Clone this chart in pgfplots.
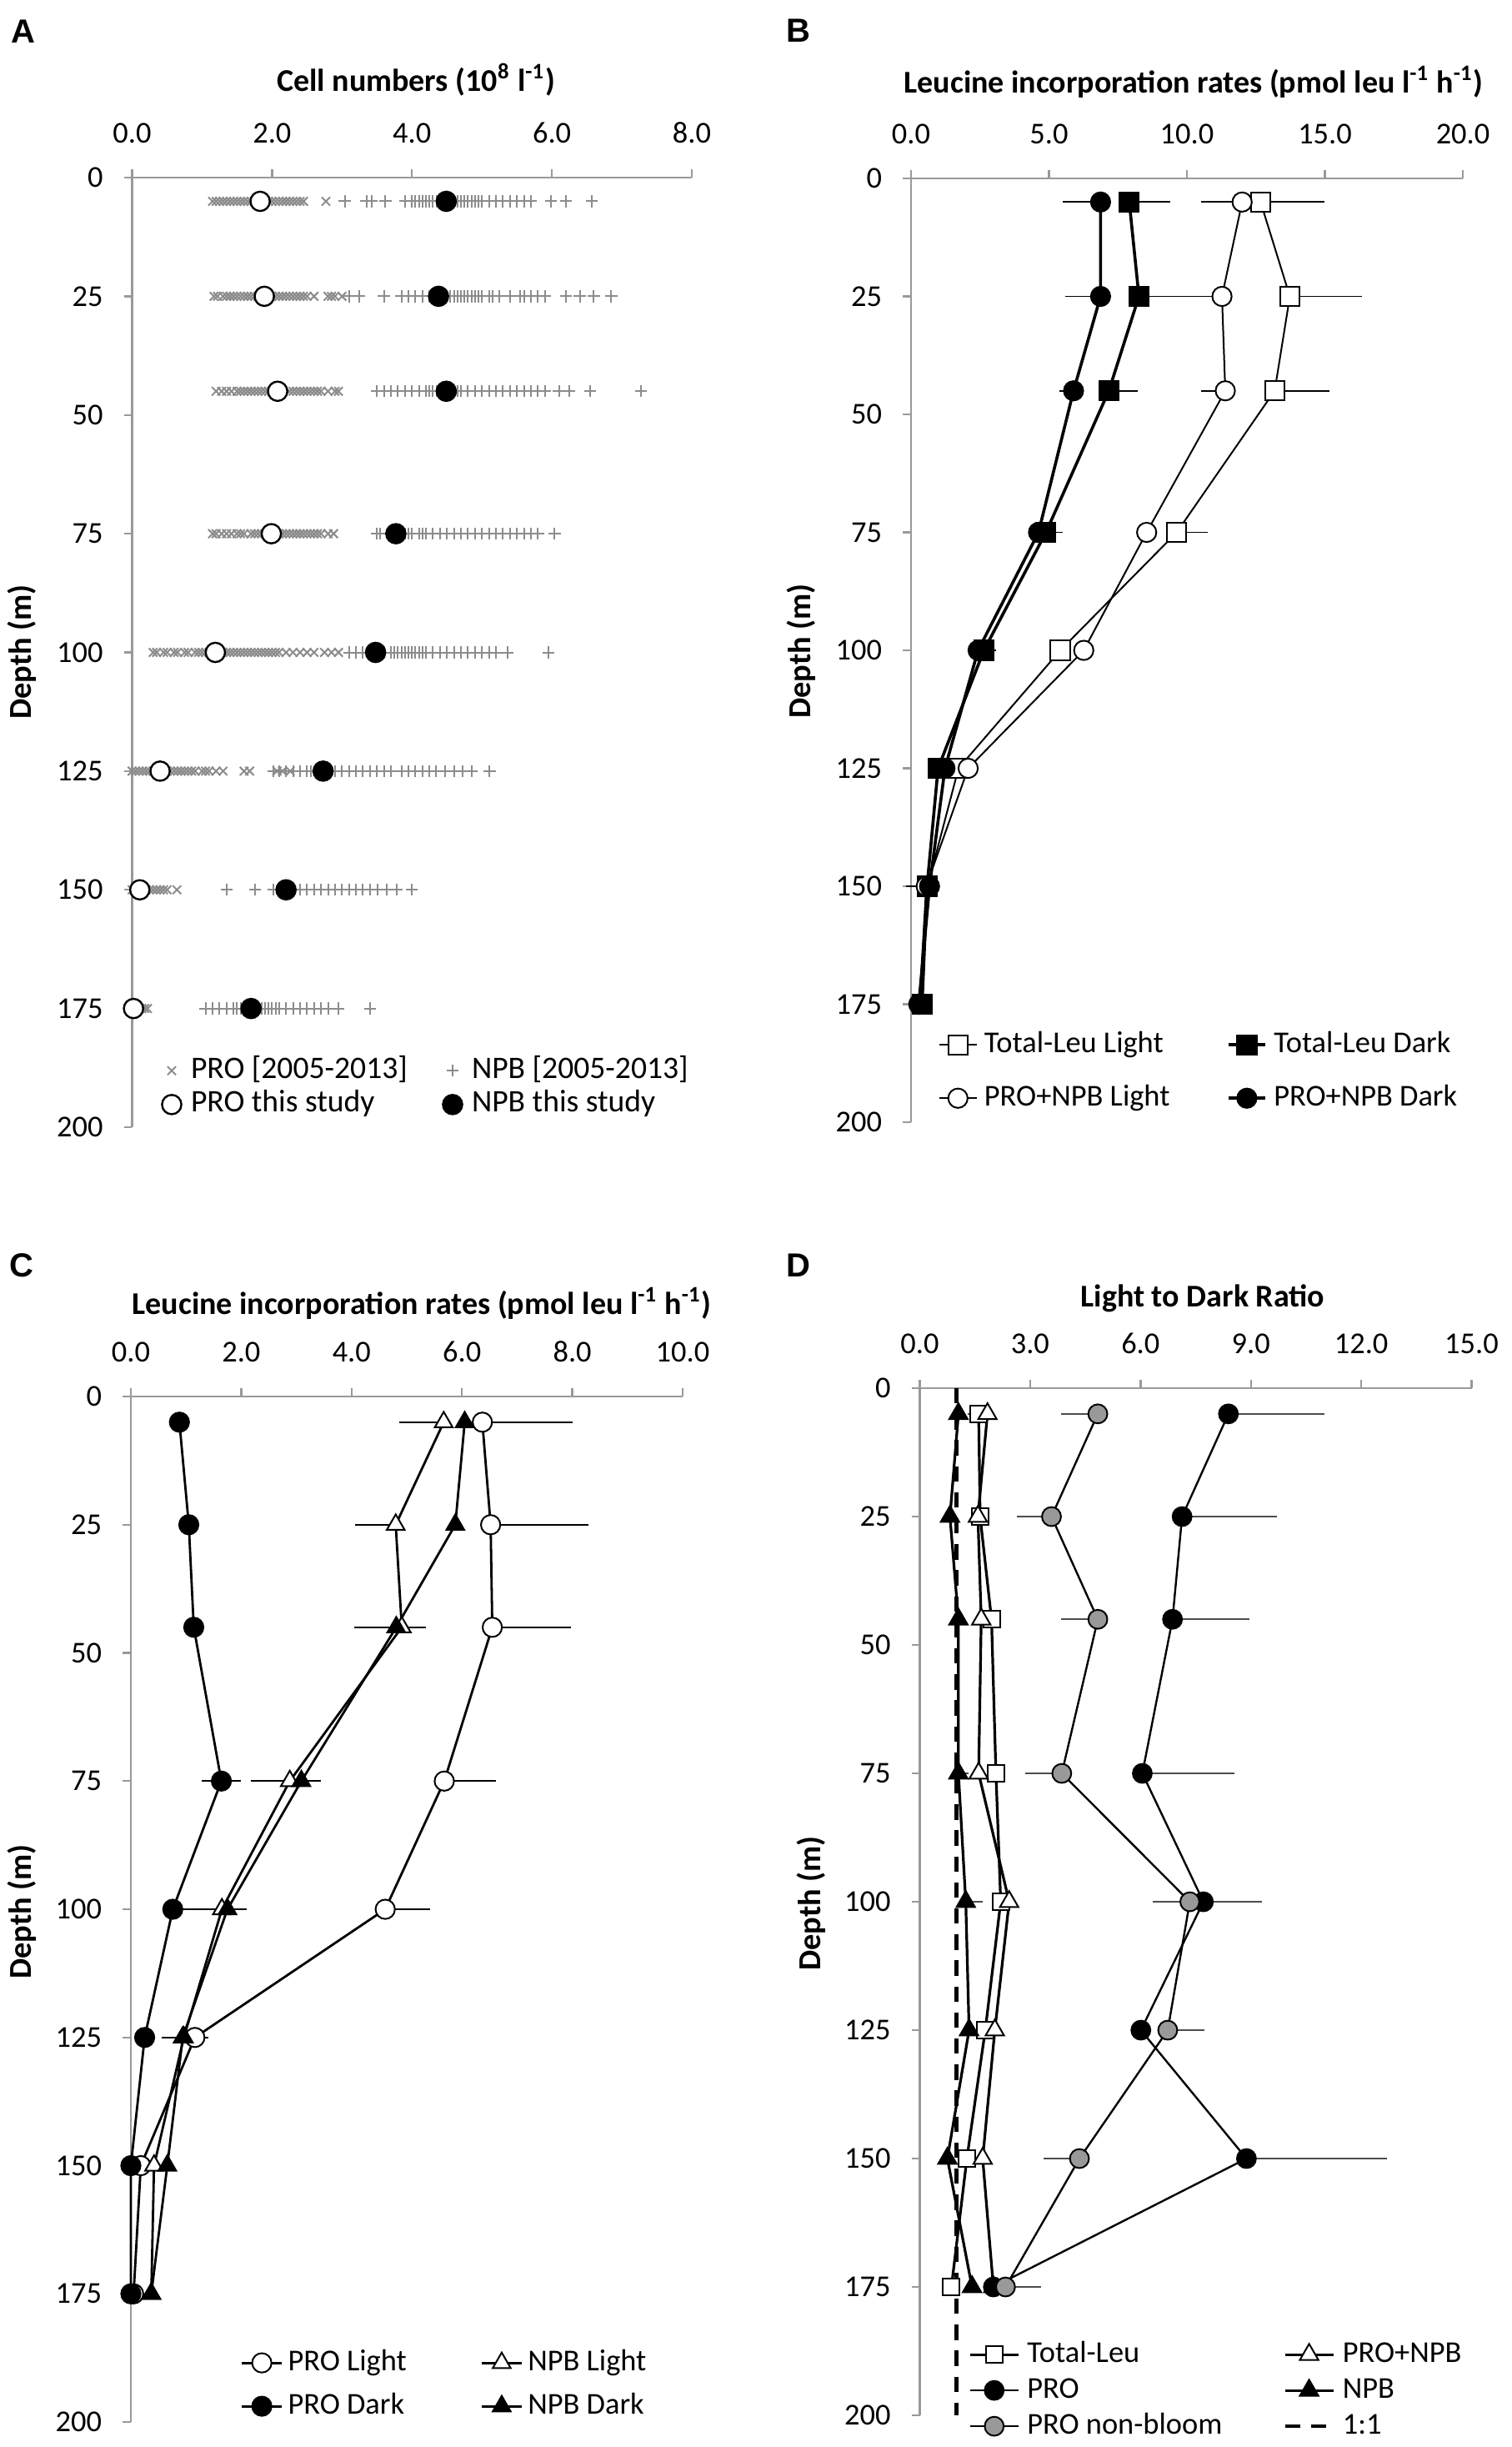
\documentclass[border=0pt]{standalone}
\usepackage{fontspec}
\setmainfont{Carlito}
\newfontfamily\arialfont{Liberation Sans}
\usepackage{pgfplots}
\pgfplotsset{compat=1.18}

\newcommand\fs{\fontsize{9.1pt}{10.8pt}\selectfont}
\newcommand\tfs{\fontsize{9.5pt}{11.4pt}\selectfont}
\newcommand\lfs{\fontsize{9.1pt}{11pt}\selectfont}
\newcommand\lent[2]{\makebox[#1][l]{\rule[-2pt]{0pt}{8.5pt}#2}}

\pgfplotsset{
  panel/.style={
    scale only axis, y dir=reverse, ymin=0, ymax=200, ytick={0,25,...,200},
    axis x line*=top, axis y line*=left,
    axis line style={draw=black!40, line width=0.6pt},
    tick style={draw=black!40, line width=0.6pt},
    tick align=outside, major tick length=2.4pt,
    clip=false, font=\fs,
    /pgf/number format/assume math mode=true,
    xticklabel style={/pgf/number format/.cd, fixed, fixed zerofill, precision=1},
    xticklabel shift=4.4pt, yticklabel shift=2.8pt,
    legend columns=2, legend cell align=left,
    legend style={draw=none, fill=none, inner sep=0pt, outer sep=0pt, font=\lfs, anchor=north west,
      nodes={inner sep=0pt, text depth=2pt}},
  },
  eb/.style={error bars/.cd, x dir=both, x explicit, error mark=none,
     error bar style={line width=0.45pt, black}},
  amark/.style={only marks, legend image code/.code={\path[draw=none,fill=none] (-3pt,-3pt) rectangle (3pt,3pt); \draw[##1] plot coordinates {(0pt,0pt)};}},
}

\begin{document}
\begin{tikzpicture}
\path[use as bounding box] (0,0) rectangle (453.25pt,-733.75pt);

% ---------------- Panel A ----------------
\begin{axis}[panel, at={(123.56pt,-195.625pt)}, anchor=center,
  width=167.875pt, height=284.75pt, xmin=0, xmax=8, xtick={0,2,4,6,8},
  legend style={at={(axis cs:0.423,185.0)}, row sep=1.5pt, column sep=2.75pt, font=\fontsize{9.4pt}{11pt}\selectfont}]
\addplot[amark, mark=x, mark size=1.8pt, mark options={draw=black!45, line width=0.5pt}] coordinates {
(1.15,5)(1.2,5)(1.25,5)(1.3,5)(1.35,5)(1.4,5)(1.45,5)(1.5,5)(1.55,5)(1.6,5)(1.65,5)(1.7,5)(1.75,5)(1.8,5)(1.9,5)(1.95,5)(2.0,5)(2.05,5)(2.1,5)(2.15,5)(2.2,5)(2.25,5)(2.3,5)(2.35,5)(2.4,5)(2.45,5)(2.77,5)
(1.17,25)(1.22,25)(1.3,25)(1.35,25)(1.4,25)(1.45,25)(1.5,25)(1.55,25)(1.6,25)(1.65,25)(1.7,25)(1.75,25)(1.8,25)(1.85,25)(1.95,25)(2.0,25)(2.05,25)(2.1,25)(2.15,25)(2.2,25)(2.25,25)(2.3,25)(2.35,25)(2.4,25)(2.45,25)(2.5,25)(2.6,25)(2.8,25)(2.85,25)(2.9,25)(3.0,25)
(1.2,45)(1.28,45)(1.35,45)(1.42,45)(1.5,45)(1.55,45)(1.6,45)(1.65,45)(1.7,45)(1.75,45)(1.8,45)(1.85,45)(1.9,45)(1.95,45)(2.0,45)(2.25,45)(2.3,45)(2.35,45)(2.4,45)(2.45,45)(2.5,45)(2.55,45)(2.6,45)(2.65,45)(2.7,45)(2.8,45)(2.9,45)(2.95,45)
(1.15,75)(1.2,75)(1.28,75)(1.35,75)(1.42,75)(1.5,75)(1.55,75)(1.6,75)(1.7,75)(1.75,75)(1.8,75)(1.85,75)(1.9,75)(1.95,75)(2.1,75)(2.15,75)(2.2,75)(2.25,75)(2.3,75)(2.35,75)(2.4,75)(2.45,75)(2.5,75)(2.55,75)(2.6,75)(2.65,75)(2.7,75)(2.8,75)(2.88,75)
(0.3,100)(0.35,100)(0.45,100)(0.5,100)(0.6,100)(0.65,100)(0.75,100)(0.8,100)(0.9,100)(0.95,100)(1.0,100)(1.05,100)(1.1,100)(1.3,100)(1.35,100)(1.4,100)(1.45,100)(1.5,100)(1.55,100)(1.6,100)(1.65,100)(1.7,100)(1.75,100)(1.8,100)(1.85,100)(1.9,100)(1.95,100)(2.0,100)(2.05,100)(2.1,100)(2.2,100)(2.3,100)(2.4,100)(2.5,100)(2.6,100)(2.75,100)(2.85,100)(2.95,100)
(0.0,125)(0.05,125)(0.1,125)(0.15,125)(0.2,125)(0.25,125)(0.3,125)(0.5,125)(0.55,125)(0.6,125)(0.65,125)(0.7,125)(0.75,125)(0.8,125)(0.85,125)(0.9,125)(1.0,125)(1.05,125)(1.1,125)(1.2,125)(1.3,125)(1.6,125)(1.68,125)(2.07,125)(2.15,125)(2.26,125)
(0.0,150)(0.05,150)(0.1,150)(0.15,150)(0.2,150)(0.25,150)(0.3,150)(0.35,150)(0.4,150)(0.45,150)(0.5,150)(0.64,150)
(0.0,175)(0.03,175)(0.06,175)(0.1,175)(0.14,175)(0.18,175)(0.22,175)
};
\addlegendentry{\lent{72.75pt}{PRO [2005-2013]}}
\addplot[amark, mark=+, mark size=1.8pt, mark options={draw=black!45, line width=0.5pt}] coordinates {
(3.04,5)(3.35,5)(3.42,5)(3.62,5)(3.9,5)(4.0,5)(4.05,5)(4.1,5)(4.15,5)(4.2,5)(4.25,5)(4.3,5)(4.35,5)(4.4,5)(4.6,5)(4.65,5)(4.7,5)(4.75,5)(4.8,5)(4.85,5)(4.9,5)(4.95,5)(5.0,5)(5.1,5)(5.2,5)(5.3,5)(5.4,5)(5.5,5)(5.6,5)(5.7,5)(5.99,5)(6.2,5)(6.57,5)
(3.1,25)(3.25,25)(3.6,25)(3.85,25)(3.95,25)(4.05,25)(4.15,25)(4.25,25)(4.3,25)(4.5,25)(4.55,25)(4.6,25)(4.65,25)(4.7,25)(4.75,25)(4.8,25)(4.85,25)(4.9,25)(4.95,25)(5.0,25)(5.1,25)(5.15,25)(5.25,25)(5.4,25)(5.55,25)(5.6,25)(5.7,25)(5.8,25)(5.9,25)(6.2,25)(6.4,25)(6.6,25)(6.85,25)
(3.5,45)(3.6,45)(3.7,45)(3.8,45)(3.9,45)(4.0,45)(4.1,45)(4.2,45)(4.25,45)(4.3,45)(4.35,45)(4.6,45)(4.65,45)(4.7,45)(4.8,45)(4.9,45)(5.0,45)(5.1,45)(5.2,45)(5.3,45)(5.4,45)(5.5,45)(5.6,45)(5.7,45)(5.8,45)(5.9,45)(6.1,45)(6.25,45)(6.55,45)(7.27,45)
(3.5,75)(3.55,75)(3.85,75)(3.9,75)(3.95,75)(4.0,75)(4.1,75)(4.15,75)(4.2,75)(4.3,75)(4.4,75)(4.5,75)(4.6,75)(4.7,75)(4.8,75)(4.9,75)(5.0,75)(5.1,75)(5.2,75)(5.3,75)(5.4,75)(5.5,75)(5.6,75)(5.7,75)(5.8,75)(6.04,75)
(3.1,100)(3.2,100)(3.3,100)(3.4,100)(3.6,100)(3.7,100)(3.75,100)(3.8,100)(3.85,100)(3.9,100)(3.95,100)(4.0,100)(4.05,100)(4.1,100)(4.15,100)(4.2,100)(4.3,100)(4.4,100)(4.5,100)(4.6,100)(4.7,100)(4.8,100)(4.9,100)(5.0,100)(5.1,100)(5.2,100)(5.37,100)(5.95,100)
(2.02,125)(2.1,125)(2.2,125)(2.3,125)(2.4,125)(2.5,125)(2.55,125)(2.9,125)(3.0,125)(3.1,125)(3.2,125)(3.3,125)(3.4,125)(3.5,125)(3.6,125)(3.7,125)(3.85,125)(3.95,125)(4.05,125)(4.15,125)(4.25,125)(4.34,125)(4.47,125)(4.6,125)(4.72,125)(4.85,125)(5.11,125)
(1.35,150)(1.76,150)(2.02,150)(2.1,150)(2.3,150)(2.4,150)(2.5,150)(2.6,150)(2.7,150)(2.8,150)(2.9,150)(3.0,150)(3.1,150)(3.2,150)(3.3,150)(3.4,150)(3.51,150)(3.64,150)(3.78,150)(4.0,150)
(1.05,175)(1.15,175)(1.25,175)(1.35,175)(1.45,175)(1.5,175)(1.55,175)(1.6,175)(1.65,175)(1.8,175)(1.85,175)(1.9,175)(1.95,175)(2.0,175)(2.05,175)(2.1,175)(2.2,175)(2.3,175)(2.4,175)(2.5,175)(2.6,175)(2.7,175)(2.8,175)(2.95,175)(3.4,175)
};
\addlegendentry{\lent{72.75pt}{NPB [2005-2013]}}
\addplot[amark, mark=*, mark size=2.9pt, mark options={fill=white, draw=black, line width=0.6pt}] coordinates {(1.83,5)(1.89,25)(2.08,45)(1.99,75)(1.19,100)(0.40,125)(0.11,150)(0.02,175)};
\addlegendentry{\lent{72.75pt}{PRO this study}}
\addplot[amark, mark=*, mark size=2.9pt, mark options={fill=black, draw=black, line width=0.6pt}] coordinates {(4.49,5)(4.38,25)(4.49,45)(3.77,75)(3.48,100)(2.73,125)(2.20,150)(1.70,175)};
\addlegendentry{\lent{72.75pt}{NPB this study}}
\end{axis}

% ---------------- Panel B ----------------
\begin{axis}[panel, at={(356pt,-195pt)}, anchor=center,
  width=165.5pt, height=283pt, xmin=0, xmax=20, xtick={0,5,10,15,20},
  legend image code/.code={\draw[mark repeat=2,mark phase=2,#1] plot coordinates {(0pt,0pt)(5.55pt,0pt)(11.1pt,0pt)};},
  legend style={at={(axis cs:1.0,180.6)}, row sep=7.5pt, column sep=2.1pt}]
\addplot[black, line width=0.5pt, mark=square*, mark size=2.9pt, mark options={fill=white, line width=0.5pt}, eb] coordinates {
(12.67,5) += (2.3,0) -= (0,0)
(13.73,25) += (2.61,0) -= (0,0)
(13.18,45) += (1.99,0) -= (0,0)
(9.63,75) += (1.11,0) -= (0,0)
(5.41,100) += (0,0) -= (0,0)
(1.72,125) += (0,0) -= (0,0)
(0.60,150) += (0,0) -= (0,0)
(0.40,175) += (0,0) -= (0,0)
};
\addlegendentry{\lent{70.65pt}{Total-Leu Light}}
\addplot[black, line width=0.9pt, mark=square*, mark size=2.9pt, mark options={fill=black, line width=0.5pt}, eb] coordinates {
(7.91,5) += (1.5,0) -= (0,0)
(8.26,25) += (1.46,0) -= (0,0)
(7.17,45) += (1.05,0) -= (0,0)
(4.89,75) += (0.61,0) -= (0,0)
(2.64,100) += (0.44,0) -= (0,0)
(0.98,125) += (0,0) -= (0,0)
(0.58,150) += (0.44,0) -= (0,0)
(0.40,175) += (0,0) -= (0,0)
};
\addlegendentry{\lent{70.65pt}{Total-Leu Dark}}
\addplot[black, line width=0.5pt, mark=*, mark size=2.9pt, mark options={fill=white, line width=0.5pt}, eb] coordinates {
(12.0,5) += (0,0) -= (1.5,0)
(11.27,25) += (0,0) -= (1.55,0)
(11.39,45) += (0,0) -= (0.88,0)
(8.54,75) += (0,0) -= (0,0)
(6.26,100) += (0,0) -= (0,0)
(2.07,125) += (0,0) -= (0,0)
(0.55,150) += (0,0) -= (0,0)
(0.30,175) += (0,0) -= (0,0)
};
\addlegendentry{\lent{70.65pt}{PRO+NPB Light}}
\addplot[black, line width=0.9pt, mark=*, mark size=2.9pt, mark options={fill=black, line width=0.5pt}, eb] coordinates {
(6.87,5) += (0,0) -= (1.37,0)
(6.87,25) += (0,0) -= (1.28,0)
(5.89,45) += (0,0) -= (0.51,0)
(4.62,75) += (0,0) -= (0,0)
(2.43,100) += (0,0) -= (0,0)
(1.23,125) += (0,0) -= (0,0)
(0.67,150) += (0,0) -= (0.85,0)
(0.28,175) += (0,0) -= (0,0)
};
\addlegendentry{\lent{70.65pt}{PRO+NPB Dark}}
\end{axis}

% ---------------- Panel C ----------------
\begin{axis}[panel, at={(122pt,-572.5pt)}, anchor=center,
  width=165.5pt, height=307.5pt, xmin=0, xmax=10, xtick={0,2,4,6,8,10},
  legend image code/.code={\draw[mark repeat=2,mark phase=2,#1] plot coordinates {(0pt,0pt)(6pt,0pt)(12pt,0pt)};},
  legend style={at={(axis cs:1.99,185.7)}, row sep=4.5pt, column sep=1.5pt}]
\addplot[black, line width=0.7pt, mark=*, mark size=2.9pt, mark options={fill=white, line width=0.5pt}, eb] coordinates {
(6.37,5) += (1.64,0) -= (0,0)
(6.52,25) += (1.77,0) -= (0,0)
(6.55,45) += (1.43,0) -= (0,0)
(5.68,75) += (0.94,0) -= (0,0)
(4.61,100) += (0.81,0) -= (0,0)
(1.16,125) += (0.24,0) -= (0,0)
(0.18,150) += (0,0) -= (0,0)
(0.05,175) += (0,0) -= (0,0)
};
\addlegendentry{\lent{56.25pt}{PRO Light}}
\addplot[black, line width=0.7pt, mark=triangle*, mark size=3.1pt, mark options={fill=white, line width=0.5pt}, eb] coordinates {
(5.67,5) += (0,0) -= (0.8,0)
(4.80,25) += (0,0) -= (0.74,0)
(4.91,45) += (0,0) -= (0.86,0)
(2.88,75) += (0,0) -= (0.71,0)
(1.65,100) += (0,0) -= (0.9,0)
(0.96,125) += (0,0) -= (0.4,0)
(0.42,150) += (0,0) -= (0,0)
(0.37,175) += (0,0) -= (0,0)
};
\addlegendentry{\lent{56.25pt}{NPB Light}}
\addplot[black, line width=0.7pt, mark=*, mark size=2.9pt, mark options={fill=black, line width=0.5pt}, eb] coordinates {
(0.88,5) += (0,0) -= (0,0)
(1.05,25) += (0,0) -= (0,0)
(1.14,45) += (0,0) -= (0,0)
(1.64,75) += (0.35,0) -= (0.35,0)
(0.76,100) += (0,0) -= (0,0)
(0.25,125) += (0,0) -= (0,0)
(0.0,150) += (0,0) -= (0,0)
(0.0,175) += (0,0) -= (0,0)
};
\addlegendentry{\lent{56.25pt}{PRO Dark}}
\addplot[black, line width=0.7pt, mark=triangle*, mark size=3.1pt, mark options={fill=black, line width=0.5pt}, eb] coordinates {
(6.05,5) += (0,0) -= (0,0)
(5.88,25) += (0,0) -= (0,0)
(4.81,45) += (0.54,0) -= (0,0)
(3.09,75) += (0.35,0) -= (0,0)
(1.75,100) += (0.35,0) -= (0,0)
(0.94,125) += (0.2,0) -= (0,0)
(0.66,150) += (0,0) -= (0,0)
(0.37,175) += (0,0) -= (0,0)
};
\addlegendentry{\lent{56.25pt}{NPB Dark}}
\end{axis}

% ---------------- Panel D ----------------
\begin{axis}[panel, at={(358.625pt,-570.25pt)}, anchor=center,
  width=165.5pt, height=308pt, xmin=0, xmax=15, xtick={0,3,6,9,12,15},
  legend image code/.code={\draw[mark repeat=2,mark phase=2,#1] plot coordinates {(0pt,0pt)(7.25pt,0pt)(14.5pt,0pt)};},
  legend style={at={(axis cs:1.33,185.4)}, row sep=2.25pt, column sep=2.25pt},
  eb/.append style={error bar style={line width=0.5pt, black!70}}]
\addplot[black, line width=0.8pt, mark=square*, mark size=2.5pt, mark options={fill=white, line width=0.5pt}, eb] coordinates {
(1.6,5) += (0,0) -= (0.3,0)
(1.64,25) += (0,0) -= (0,0)
(1.95,45) += (0,0) -= (0,0)
(2.07,75) += (0,0) -= (0,0)
(2.2,100) += (0,0) -= (0,0)
(1.78,125) += (0,0) -= (0,0)
(1.28,150) += (0,0) -= (0,0)
(0.86,175) += (0,0) -= (0,0)
};
\addlegendentry{\lent{74.5pt}{Total-Leu}}
\addplot[black, line width=0.8pt, mark=triangle*, mark size=3.2pt, mark options={fill=white, line width=0.5pt}] coordinates {
(1.84,5)(1.58,25)(1.67,45)(1.6,75)(2.43,100)(2.04,125)(1.71,150)(2.0,175)
};
\addlegendentry{\lent{74.5pt}{PRO+NPB}}
\addplot[black, line width=0.6pt, mark=*, mark size=2.85pt, mark options={fill=black, line width=0.5pt}, eb] coordinates {
(8.39,5) += (2.6,0) -= (0,0)
(7.13,25) += (2.57,0) -= (0,0)
(6.87,45) += (2.1,0) -= (0,0)
(6.05,75) += (2.5,0) -= (0,0)
(7.71,100) += (1.58,0) -= (0,0)
(6.01,125) += (0,0) -= (0,0)
(8.88,150) += (3.82,0) -= (0,0)
(2.0,175) += (0,0) -= (0,0)
};
\addlegendentry{\lent{74.5pt}{PRO}}
\addplot[black, line width=0.8pt, mark=triangle*, mark size=3.2pt, mark options={fill=black, line width=0.5pt}, eb] coordinates {
(1.05,5) += (0,0) -= (0,0)
(0.82,25) += (0,0) -= (0,0)
(1.05,45) += (0,0) -= (0,0)
(1.05,75) += (0.27,0) -= (0,0)
(1.25,100) += (0.46,0) -= (0,0)
(1.34,125) += (0,0) -= (0,0)
(0.75,150) += (0,0) -= (0,0)
(1.42,175) += (0,0) -= (0,0)
};
\addlegendentry{\lent{74.5pt}{NPB}}
\addplot[black, line width=0.6pt, mark=*, mark size=2.85pt, mark options={fill=black!40, line width=0.5pt}, eb] coordinates {
(4.84,5) += (0,0) -= (1.0,0)
(3.58,25) += (0,0) -= (0.95,0)
(4.84,45) += (0,0) -= (1.0,0)
(3.86,75) += (0,0) -= (1.0,0)
(7.34,100) += (0,0) -= (1.0,0)
(6.74,125) += (1.0,0) -= (0,0)
(4.34,150) += (0,0) -= (0.98,0)
(2.33,175) += (0.96,0) -= (0,0)
};
\addlegendentry{\lent{74.5pt}{PRO non-bloom}}
\addplot[black, line width=1.1pt, dash pattern=on 4.6pt off 3.2pt] coordinates {(1,0)(1,200)};
\addlegendentry{\lent{74.5pt}{1:1}}
\end{axis}

% ---------------- texts ----------------
\node[font={\fontsize{10pt}{12pt}\arialfont\bfseries}] at (7pt,-9.5pt) {A};
\node[font={\fontsize{10pt}{12pt}\arialfont\bfseries}] at (239.5pt,-9.25pt) {B};
\node[font={\fontsize{10pt}{12pt}\arialfont\bfseries}] at (6.5pt,-379.5pt) {C};
\node[font={\fontsize{10pt}{12pt}\arialfont\bfseries}] at (239.5pt,-379.5pt) {D};

\node[font=\tfs\bfseries] at (124.75pt,-24pt) {Cell numbers (10\textsuperscript{8} l\textsuperscript{-1})};
\node[font=\tfs\bfseries] at (358pt,-24.5pt) {Leucine incorporation rates (pmol leu l\textsuperscript{-1} h\textsuperscript{-1})};
\node[font=\tfs\bfseries] at (126.5pt,-390.75pt) {Leucine incorporation rates (pmol leu l\textsuperscript{-1} h\textsuperscript{-1})};
\node[font=\tfs\bfseries] at (360.75pt,-389.25pt) {Light to Dark Ratio};

\node[rotate=90, font=\fontsize{9.6pt}{11pt}\selectfont\bfseries] at (6.5pt,-195.5pt) {Depth (m)};
\node[rotate=90, font=\fontsize{9.6pt}{11pt}\selectfont\bfseries] at (240.25pt,-195.25pt) {Depth (m)};
\node[rotate=90, font=\fontsize{9.6pt}{11pt}\selectfont\bfseries] at (6.5pt,-573.25pt) {Depth (m)};
\node[rotate=90, font=\fontsize{9.6pt}{11pt}\selectfont\bfseries] at (243.25pt,-570.75pt) {Depth (m)};
\end{tikzpicture}
\end{document}
